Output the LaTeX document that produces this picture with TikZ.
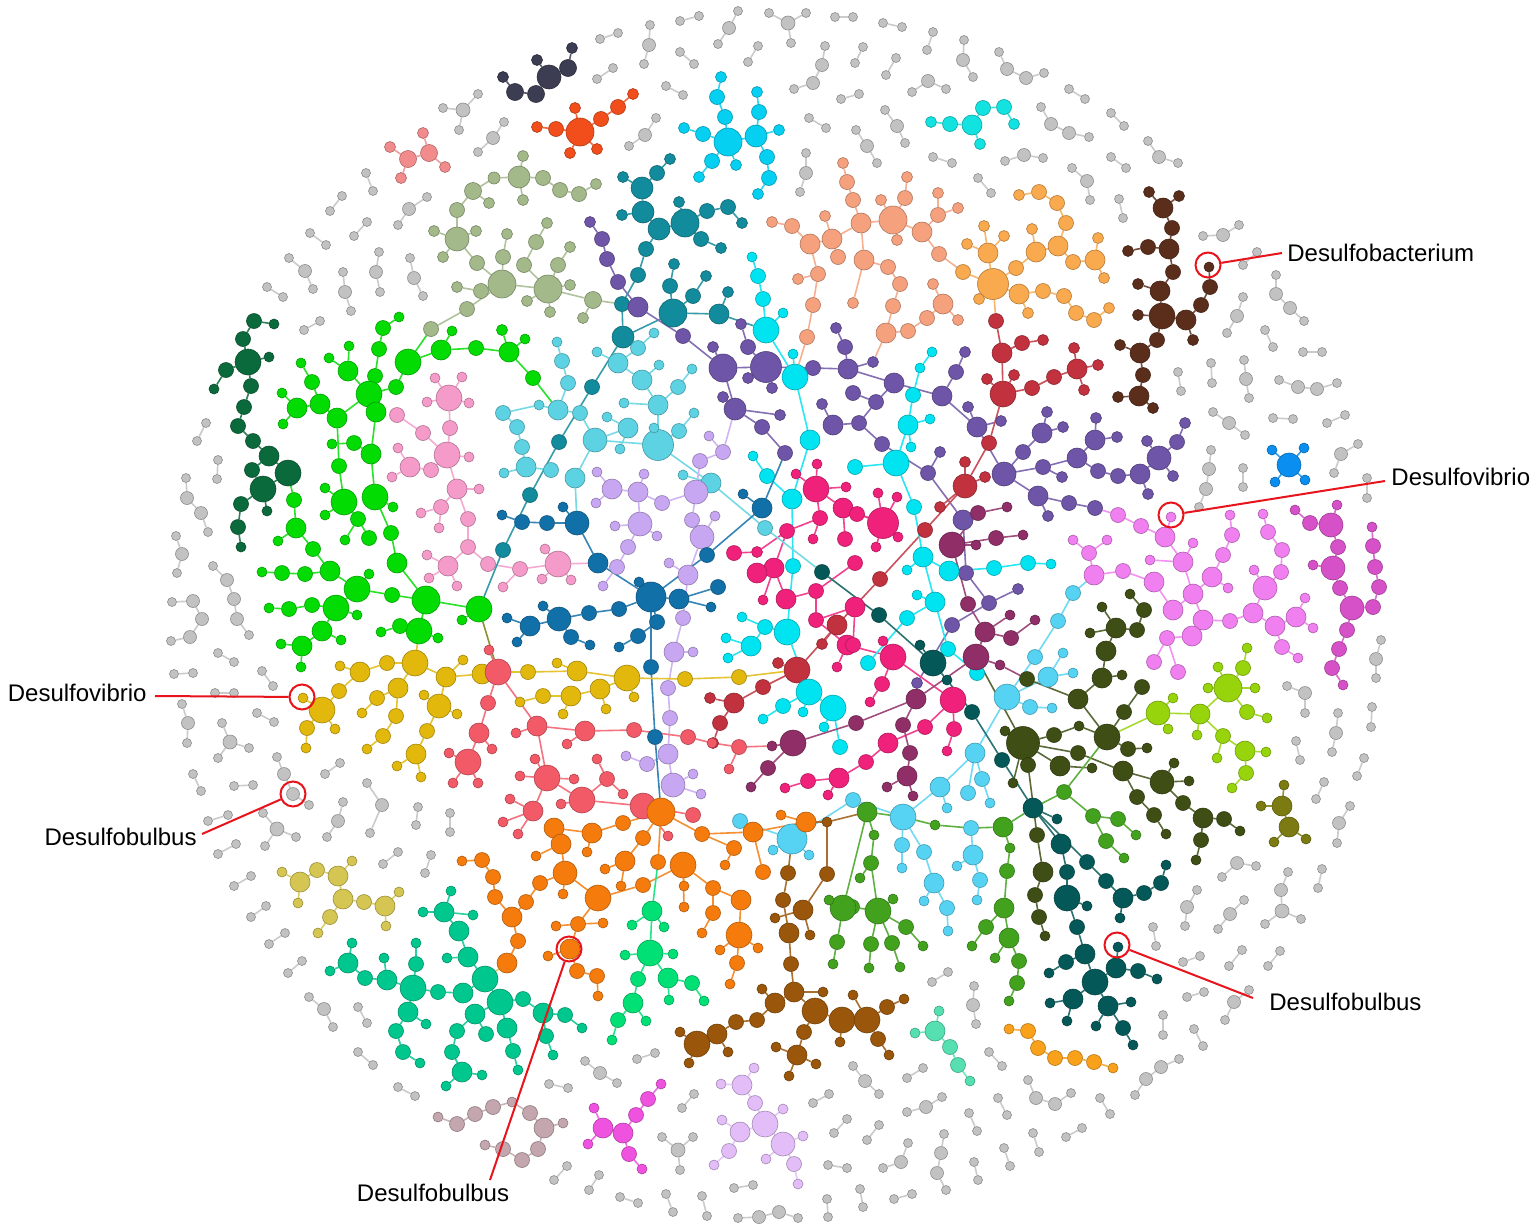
\documentclass[tikz,border=0pt]{standalone}
\usepackage{fontspec}
\setmainfont{Liberation Sans}
\usetikzlibrary{backgrounds}
\definecolor{cNV}{HTML}{3C3C52}\definecolor{cOR}{HTML}{F24E1C}\definecolor{cCY}{HTML}{05D0F2}
\definecolor{cSP}{HTML}{F28C8C}\definecolor{cTQ}{HTML}{12E2E0}\definecolor{cSG}{HTML}{A3B98A}
\definecolor{cTL}{HTML}{128B9C}\definecolor{cPU}{HTML}{6E55A7}\definecolor{cPE}{HTML}{F5A17E}
\definecolor{cLO}{HTML}{F9A94E}\definecolor{cCR}{HTML}{C1313E}\definecolor{cBR}{HTML}{5B2E1C}
\definecolor{cGR}{HTML}{02DC02}\definecolor{cDG}{HTML}{0B6A3C}\definecolor{cLP}{HTML}{F59BC9}
\definecolor{cLB}{HTML}{5DD2E2}\definecolor{cLV}{HTML}{C8A7F2}\definecolor{cBL}{HTML}{1270A9}
\definecolor{cHP}{HTML}{F0217B}\definecolor{cCB}{HTML}{00E4F2}\definecolor{cSK}{HTML}{56D3F3}
\definecolor{cPL}{HTML}{8F2E67}\definecolor{cDT}{HTML}{045958}\definecolor{cDO}{HTML}{3E4E15}
\definecolor{cYG}{HTML}{97D40B}\definecolor{cOL}{HTML}{7B7B12}\definecolor{cBB}{HTML}{0A8EEF}
\definecolor{cOC}{HTML}{F07FF0}\definecolor{cMG}{HTML}{D651C8}\definecolor{cGD}{HTML}{E1B80B}
\definecolor{cSR}{HTML}{F25A68}\definecolor{cOG}{HTML}{F57B0D}\definecolor{cSN}{HTML}{00E074}
\definecolor{cBW}{HTML}{9A560A}\definecolor{cG2}{HTML}{42A21E}\definecolor{cTG}{HTML}{00C78E}
\definecolor{cKH}{HTML}{D5C552}\definecolor{cMV}{HTML}{C3A6AE}\definecolor{cM2}{HTML}{F052E0}
\definecolor{cLL}{HTML}{E2BDF8}\definecolor{cMT}{HTML}{56E0B2}\definecolor{cO2}{HTML}{F9A11A}
\definecolor{grayc}{HTML}{C2C2C2}\definecolor{cRed}{HTML}{E8141C}
\newcount\gcnt
\newcommand\clus[3]{%
  \foreach \i/\x/\y/\s/\p in {#3}{\node[dot=#2,minimum size=\s*0.5pt] (#1-\i) at (\x,\y) {};}%
  \begin{pgfonlayer}{background}%
  \foreach \i/\x/\y/\s/\p in {#3}{\ifnum\p>0 \draw[edge=#2] (#1-\i) -- (#1-\p);\fi}%
  \end{pgfonlayer}}
\newcommand\gry[1]{\global\advance\gcnt by 1\relax\edef\gpre{g\the\gcnt}%
  \expandafter\clus\expandafter{\gpre}{grayc}{#1}}
\newcommand\gpair[4]{\gry{1/#1/#2/9/0,2/#3/#4/9/1}}
\newcommand\gchain[6]{\gry{1/#1/#2/9/0,2/#3/#4/13/1,3/#5/#6/9/2}}
\newcommand\gquad[8]{\gry{1/#1/#2/9/0,2/#3/#4/13/1,3/#5/#6/13/2,4/#7/#8/9/3}}
\newcommand\gstar[8]{\gry{1/#1/#2/14/0,2/#3/#4/9/1,3/#5/#6/9/1,4/#7/#8/9/1}}
\newcommand\xedge[3]{\begin{pgfonlayer}{background}\draw[edge=#1] (#2) -- (#3);\end{pgfonlayer}}
\begin{document}
\begin{tikzpicture}[x=0.5pt,y=-0.5pt,
  dot/.style={circle,inner sep=0pt,fill=#1,draw=#1!72!black,line width=0.3pt},
  edge/.style={draw=#1!85!white,line width=0.8pt},
  ring/.style={circle,draw=cRed,line width=1pt,inner sep=0pt,minimum size=12.5pt},
  redline/.style={draw=cRed,line width=1pt},
  lab/.style={inner sep=0pt,font=\fontsize{12pt}{14pt}\selectfont,text=black}]
\begin{pgfonlayer}{background}\fill[white] (0,0) rectangle (1535,1231);\end{pgfonlayer}
\useasboundingbox (0,0) rectangle (1535,1231);

% ---------------- coloured clusters ----------------
\clus{NV}{cNV}{1/549/77/24/0,2/536/94/17/1,3/515/92/17/2,4/503/77/11/3,5/568/68/17/1,6/572/48/11/5,7/537/60/11/1}
\clus{OR}{cOR}{1/580/132/28/0,2/575/108/11/1,3/556/129/15/1,4/537/127/11/3,5/570/153/11/1,6/597/149/11/1,7/601/119/15/1,8/618/107/15/7,9/633/94/11/8}
\clus{CY}{cCY}{1/728/142/28/0,2/725/117/15/1,3/717/97/15/2,4/721/77/11/3,5/703/134/15/1,6/684/128/11/5,7/712/161/15/1,8/699/177/11/7,9/736/165/11/1,10/756/136/22/1,11/759/112/15/10,12/757/92/11/11,13/779/130/11/10,14/767/157/15/10,15/769/178/15/14,16/758/194/11/15}
\clus{SP}{cSP}{1/408/159/17/0,2/429/153/17/1,3/390/147/11/1,4/401/178/11/1,5/423/133/11/2,6/445/167/11/2}
\clus{TQ}{cTQ}{1/972/125/20/0,2/950/124/15/1,3/931/122/11/2,4/983/108/15/1,5/1004/107/15/4,6/1014/124/11/5,7/980/144/11/1}
\clus{SG}{cSG}{1/519/177/22/0,2/523/156/11/1,3/523/200/11/1,4/543/178/15/1,5/560/190/15/4,6/579/194/15/5,7/596/184/11/6,8/494/178/12/1,9/473/191/17/8,10/489/203/11/9,11/457/210/15/9,12/457/239/24/11,13/434/231/11/12,14/476/231/11/12,15/443/257/11/12,16/477/263/15/12,17/502/284/28/16,18/457/287/11/19,19/481/291/15/17,20/467/309/15/17,21/431/329/15/20,22/548/289/28/17,23/593/300/17/22,24/524/265/15/22,25/536/242/15/24,26/547/223/11/25,27/503/257/15/17,28/507/234/11/27,29/558/265/15/22,30/570/247/11/29,31/570/285/11/22,32/527/301/11/22,33/550/312/11/22,34/583/318/11/23}
\clus{TL}{cTL}{1/685/223/28/0,2/679/202/11/1,3/707/211/15/1,4/728/207/15/3,5/742/223/11/4,6/701/239/15/1,7/721/248/11/6,8/659/229/22/1,9/643/212/22/8,10/622/215/11/9,11/642/188/22/9,12/623/177/11/11,13/657/173/15/11,14/670/159/11/13,15/646/249/15/8,16/638/275/15/15,17/622/304/15/16,18/623/337/22/17,19/673/313/28/18,20/670/286/15/19,21/674/264/11/20,22/693/296/15/19,23/706/276/11/22,24/719/314/20/19,25/728/292/11/24,26/592/387/15/18,27/559/442/15/26,28/530/495/15/27,29/503/550/15/28}
\clus{PU}{cPU}{1/590/222/11/2,2/602/239/15/3,3/607/259/15/4,4/618/282/15/5,5/638/307/20/6,6/683/336/15/7,7/723/368/28/0,8/713/347/11/7,9/766/367/31/7,10/748/347/15/9,11/741/324/11/10,12/748/378/11/9,13/772/388/11/9,14/735/409/22/7,15/723/397/11/14,16/780/415/11/14,17/813/368/15/9,18/848/369/20/17,19/845/347/15/18,20/836/328/11/19,21/873/362/11/18,22/894/383/20/18,23/942/396/20/22,24/956/372/15/23,25/965/352/11/24,26/876/402/15/22,27/853/393/15/26,28/859/423/15/26,29/882/444/15/28,30/928/473/15/29,31/940/452/11/30,32/963/520/20/30,33/977/427/20/23,34/968/407/11/33,35/1004/474/24/33,36/1001/421/11/33,37/1023/452/15/35,38/1042/433/20/37,39/1047/412/11/38,40/1063/427/11/38,41/1043/467/15/35,42/1077/458/20/41,43/1062/477/11/41,44/1095/440/20/42,45/1096/418/11/44,46/1117/437/11/44,47/1098/471/15/42,48/1118/476/15/47,49/1140/474/20/48,50/1159/458/24/49,51/1177/442/15/50,52/1185/423/11/51,53/1147/441/11/50,54/1173/476/11/50,55/1148/494/11/49,56/1038/496/20/35,57/1048/516/11/56,58/1069/503/15/56,59/1095/508/15/58,60/966/573/15/32,61/989/603/15/60,62/1018/589/11/61,63/952/625/15/61,64/917/683/11/63,65/762/427/15/14,66/785/453/15/65,67/833/425/20/28,68/822/404/11/67}
\clus{PE}{cPE}{1/893/220/28/0,2/881/200/11/1,3/905/198/15/1,4/907/177/11/3,5/897/240/11/1,6/922/232/20/1,7/938/215/15/6,8/938/193/11/7,9/958/208/11/7,10/939/254/15/6,11/861/223/20/1,12/853/200/15/11,14/847/182/15/12,15/843/163/11/14,16/832/239/20/11,17/825/216/11/16,18/810/244/20/16,19/792/226/15/18,20/772/222/11/19,21/838/257/15/16,22/818/274/15/18,23/798/279/11/22,24/813/305/15/22,25/807/337/15/24,26/864/260/20/11,27/888/267/15/26,28/900/284/15/27,29/893/306/15/28,30/886/333/20/29,31/908/331/15/30,32/927/318/15/31,33/943/304/20/32,34/933/284/11/33,35/958/320/11/33,36/853/303/11/26}
\clus{LO}{cLO}{1/993/284/31/0,2/963/272/15/1,3/988/253/20/1,4/967/244/11/3,5/984/226/11/3,6/1004/236/11/3,7/979/299/11/1,8/1016/268/15/1,9/1036/252/20/8,10/1032/229/11/9,11/1058/246/20/9,12/1066/223/15/11,13/1057/203/15/12,14/1039/192/15/13,15/1019/195/11/14,16/1073/262/15/11,17/1095/260/20/16,18/1098/238/11/17,19/1104/278/11/17,20/1019/294/20/1,21/1028/313/11/20,22/1043/291/15/20,23/1064/296/15/22,24/1076/313/15/23,25/1094/320/15/24,26/1109/308/11/25}
\clus{CR}{cCR}{1/996/321/15/0,2/1002/353/20/1,3/1022/343/15/2,4/1043/340/11/3,5/1003/394/26/2,6/987/379/11/5,7/1014/375/11/5,8/1032/388/15/5,9/1054/377/15/8,10/1077/369/20/9,11/1074/348/11/10,12/1098/365/11/10,13/1084/390/11/10,14/989/443/15/5,15/965/486/24/14,16/965/462/11/15,17/985/477/11/15,18/940/507/11/15,19/925/530/15/15,20/880/579/15/19,21/837/625/20/20,22/822/644/11/21,23/797/670/26/21,24/778/663/11/23,25/763/687/15/23,26/734/703/20/25,27/710/698/11/26,28/720/723/15/26,29/713/743/11/28}
\clus{BR}{cBR}{1/1163/208/20/0,2/1149/192/11/1,3/1179/196/11/1,4/1172/228/15/1,5/1169/249/20/4,6/1148/247/15/5,7/1128/251/11/6,8/1173/272/15/5,9/1160/291/20/8,10/1138/284/11/9,11/1162/316/26/9,12/1138/315/11/11,13/1186/320/20/11,14/1193/340/11/13,15/1201/305/15/13,16/1210/287/15/15,17/1209/267/10/16,18/1157/340/15/11,19/1140/353/20/18,20/1120/345/11/19,21/1143/375/15/19,22/1139/396/20/21,23/1118/397/11/22,24/1153/408/11/22}
\clus{GR}{cGR}{1/399/317/10/2,2/383/328/15/3,3/379/349/15/4,4/375/376/15/5,5/369/394/26/0,6/348/371/20/5,7/349/346/10/6,8/329/358/10/6,9/376/412/20/5,10/337/418/20/5,11/320/404/20/10,12/312/382/15/11,13/301/363/10/12,14/297/408/20/11,15/282/393/10/14,16/283/424/10/14,17/396/387/15/5,18/408/362/26/17,19/441/350/20/18,20/452/331/10/19,21/476/348/15/19,22/509/352/20/21,23/502/330/11/22,24/525/339/10/22,25/533/378/15/22,26/339/466/15/10,27/344/502/26/26,28/325/488/10/27,29/325/515/10/27,30/358/519/15/27,31/345/540/10/30,32/369/538/15/30,33/371/454/20/9,34/354/443/15/33,35/332/444/10/34,36/375/497/26/33,37/393/507/10/36,38/391/533/15/36,39/397/563/20/38,40/426/600/28/39,41/294/500/15/0,42/296/528/20/41,43/278/541/10/42,44/313/549/15/42,45/330/571/20/44,46/305/574/15/45,47/282/573/15/46,48/262/572/10/47,49/357/589/26/45,50/369/574/10/49,51/392/595/15/49,52/336/608/26/49,53/312/605/15/52,54/289/609/15/53,55/269/608/10/54,56/357/615/10/52,57/322/631/20/52,58/341/640/10/57,59/302/646/20/57,60/281/644/10/59,61/301/667/10/59,62/419/631/26/40,63/400/626/15/62,64/381/632/10/63,65/438/638/10/62,66/479/609/26/40,67/462/620/10/66}
\clus{DG}{cDG}{1/254/321/15/3,2/274/324/10/1,3/243/339/15/4,4/248/362/26/0,5/269/357/10/4,6/226/370/15/4,7/214/389/10/6,8/251/386/15/4,9/244/407/15/8,10/238/426/15/9,11/253/441/15/10,12/269/456/20/11,13/288/473/26/12,14/252/470/15/12,15/263/489/26/14,16/267/511/10/15,17/241/504/15/15,18/238/527/15/17,19/241/547/10/18}
\clus{LP}{cLP}{1/449/398/26/0,2/435/378/10/1,3/462/377/10/1,4/427/402/10/1,5/469/403/10/1,6/450/428/15/1,7/447/455/26/6,8/397/415/15/9,9/423/433/15/7,10/469/457/10/7,11/431/470/15/7,12/410/467/20/11,13/398/448/10/12,14/392/477/10/12,15/457/489/20/7,16/479/489/10/15,17/441/507/15/15,18/421/513/10/17,19/439/528/10/17,20/468/519/15/15,21/468/547/15/20,22/448/566/20/21,23/427/555/10/22,24/429/578/10/22,25/457/586/10/22,26/488/564/15/21,27/520/569/15/26,28/558/564/26/27,29/545/549/10/28,30/542/579/10/28,31/571/580/10/28,32/503/587/10/27}
\clus{LB}{cLB}{1/557/342/10/2,2/562/361/15/3,3/568/383/15/4,4/558/410/20/0,5/539/405/10/4,6/580/413/15/4,7/595/440/24/6,8/575/478/20/7,9/628/428/20/7,10/607/417/10/9,11/620/449/10/9,12/658/445/31/7,13/654/428/10/12,14/658/405/20/12,15/624/403/10/14,16/679/431/15/12,17/694/413/10/16,18/711/483/20/12,19/765/528/15/18,20/642/380/20/14,21/618/363/20/20,22/597/352/10/21,23/638/348/15/21,24/654/333/10/23,25/659/365/10/20,26/678/387/15/14,27/692/369/10/26,28/503/413/15/5,29/517/427/15/28,30/522/447/15/29,31/526/467/20/30,32/504/473/10/31,33/551/470/15/31,34/683/475/10/18}
\clus{LV}{cLV}{1/723/452/15/0,2/709/436/10/1,3/700/461/15/1,4/696/492/24/3,5/662/503/15/4,6/638/492/20/5,7/644/474/10/6,8/612/489/20/6,9/597/472/10/8,10/596/503/10/8,11/640/524/24/6,12/615/526/10/11,13/657/536/10/11,14/628/547/15/11,15/617/567/15/14,16/603/586/10/15,17/692/520/15/4,18/702/537/24/17,19/715/516/10/18,20/688/575/20/18,21/669/563/10/20,22/683/618/15/20,23/674/652/20/22,24/693/652/10/23,25/668/688/15/23,26/670/718/15/25,27/668/754/20/26,28/647/764/15/27,29/626/756/10/28,30/673/785/24/27,31/693/774/10/30,32/701/794/10/30}
\clus{BL}{cBL}{1/651/597/30/0,2/639/582/10/1,3/598/563/20/1,4/577/523/24/3,5/563/507/10/4,6/547/523/15/4,7/522/522/15/6,8/502/515/10/7,9/679/599/20/1,10/718/587/15/9,11/711/607/10/9,12/707/555/15/1,13/762/508/20/12,14/743/494/10/13,15/657/622/15/1,16/638/636/15/15,17/619/647/10/16,18/619/609/15/1,19/589/613/15/18,20/559/619/24/19,21/543/606/10/20,22/530/626/20/20,23/507/618/10/22,24/517/642/10/22,25/571/637/15/20,26/590/645/10/25,27/651/667/15/1,28/655/737/15/27}
\clus{HP}{cHP}{1/816/489/26/0,2/796/474/10/1,3/817/464/10/1,4/846/487/10/1,5/820/518/15/1,6/813/539/10/5,7/843/508/20/1,8/845/539/15/7,9/883/523/31/7,10/878/493/10/9,11/897/497/10/9,12/898/537/10/9,13/876/547/10/9,14/857/514/15/9,15/787/531/15/5,16/757/552/11/15,17/734/553/15/16,18/774/568/20/15,19/757/573/20/18,20/763/600/10/18,21/786/599/20/18,22/816/591/15/21,23/855/563/15/22,24/816/620/15/22,25/847/645/20/24,26/837/667/10/25,27/893/657/26/25,28/883/641/10/27,29/882/684/15/27,30/870/702/10/29,31/855/607/20/24,32/853/645/15/31,33/953/700/26/27,34/925/727/15/33,35/954/729/15/33,36/947/751/10/35,37/888/743/20/34,38/866/762/15/37,39/839/778/20/38,40/808/781/15/39,41/785/788/10/40,42/828/795/10/39}
\clus{CB}{cCB}{1/766/330/26/0,2/795/377/26/1,3/763/299/15/1,4/758/276/15/3,5/752/257/10/4,6/783/313/10/1,7/793/354/10/2,8/810/440/20/2,9/792/499/20/8,10/767/476/15/9,11/753/456/10/10,12/793/566/15/9,13/787/632/26/12,14/765/627/15/13,15/742/617/10/14,16/751/646/20/14,17/726/638/10/16,18/728/658/10/16,19/809/692/26/13,20/783/706/15/19,21/763/719/10/20,22/803/712/10/19,23/833/708/26/19,24/824/727/10/23,25/840/747/15/23,26/908/425/20/0,27/930/419/10/26,28/911/447/10/26,29/896/463/26/26,30/855/467/15/29,31/914/507/15/29,32/923/557/20/31,33/907/570/10/32,34/949/571/20/32,35/994/568/15/34,36/1028/563/15/35,37/1051/564/10/36,38/935/602/20/32,39/917/595/10/38,40/907/618/15/38,41/868/663/15/40,42/948/649/15/38,43/913/395/15/26,44/920/368/10/43,45/932/352/10/44,46/977/673/15/42}
\clus{SK}{cSK}{1/1007/697/26/0,2/1035/657/15/1,3/1058/621/15/2,4/1073/593/15/3,5/1048/677/20/1,6/1063/653/10/5,7/1073/673/10/5,8/1030/707/15/1,9/1052/708/10/8,10/975/753/20/1,11/982/779/15/10,12/990/803/10/11,13/940/787/20/10,14/947/808/10/13,15/903/817/26/13,16/902/845/15/15,17/902/868/10/16,18/924/852/15/15,19/934/883/20/18,20/924/901/10/19,21/947/908/15/19,22/948/931/10/21,23/971/828/15/0,24/973/855/20/23,25/957/866/10/24,26/980/880/15/24,27/977/900/10/26,28/968/793/15/10,29/853/800/15/15,30/792/839/30/29,31/740/821/15/30,32/773/850/10/30,33/809/855/10/30}
\clus{PL}{cPL}{1/952/545/26/0,2/978/513/15/1,3/1007/507/10/2,4/976/545/10/1,5/996/538/15/1,6/1023/535/10/5,7/968/604/15/1,8/985/632/20/7,9/1011/638/15/8,10/1035/620/10/9,11/1010/615/10/8,12/976/657/26/8,13/1000/665/10/12,14/916/699/20/12,15/903/725/15/14,16/910/753/15/15,17/907/776/20/16,18/887/787/10/17,19/913/796/10/17,20/856/723/15/14,21/793/743/26/20,22/772/746/10/21,23/768/768/15/21,24/751/787/10/23}
\clus{DT}{cDT}{1/822/572/15/0,2/879/615/15/1,3/933/663/26/2,4/920/645/10/3,5/947/680/10/3,6/972/712/15/5,7/1002/760/15/6,8/1033/808/20/7,9/1057/819/10/8,10/1061/844/20/8,11/1067/872/15/10,12/1067/898/26/11,13/1087/906/10/12,14/1077/927/15/12,15/1085/954/20/14,16/1066/962/15/15,17/1049/973/10/16,18/1095/982/26/15,19/1073/999/20/18,20/1050/1003/10/19,21/1067/1021/10/19,22/1108/1006/20/18,23/1096/1026/10/22,24/1123/1028/15/22,25/1133/1045/10/24,26/1131/1002/10/22,27/1116/968/20/18,28/1138/971/15/27,29/1157/979/10/28,30/1118/947/10/27,31/1087/862/15/8,32/1106/881/15/31,33/1123/898/20/32,34/1120/918/10/33,35/1144/893/15/33,36/1161/883/15/35,37/1166/865/10/36}
\clus{DO}{cDO}{1/1023/743/33/0,2/1005/731/10/1,3/1054/735/15/1,4/1079/726/10/3,5/1060/766/20/1,6/1092/768/10/5,7/1028/765/15/1,8/1013/783/10/1,9/1037/835/15/7,10/1043/872/20/9,11/1035/895/15/10,12/1039/917/15/11,13/1045/936/10/12,14/1078/753/15/1,15/1123/771/20/14,16/1162/782/24/15,17/1174/763/10/16,18/1189/781/10/16,19/1183/803/15/16,20/1203/818/20/19,21/1224/819/15/20,22/1240/831/10/21,23/1201/840/15/20,24/1196/860/10/23,25/1107/737/26/0,26/1078/699/20/25,27/1027/679/15/26,28/1124/712/15/25,29/1142/687/15/28,30/1128/749/15/25,31/1147/748/10/30,32/1137/797/15/15,33/1154/815/15/32,34/1166/834/10/33,35/1102/678/20/26,36/1122/675/10/35,37/1106/651/20/35,38/1116/628/20/37,39/1090/633/10/38,40/1102/607/10/38,41/1137/630/15/38,42/1144/610/15/41,43/1130/594/10/42}
\clus{YG}{cYG}{1/1158/713/24/0,2/1173/698/10/1,3/1168/729/10/1,4/1200/714/20/1,5/1197/735/10/4,6/1228/688/28/4,7/1243/668/15/6,8/1247/648/10/7,9/1218/667/10/6,10/1208/688/10/6,11/1255/688/10/6,12/1247/712/15/6,13/1267/718/10/12,14/1223/736/15/4,15/1245/751/20/14,16/1266/752/10/15,17/1246/773/15/15,18/1232/788/10/17,19/1217/758/10/14}
\clus{OL}{cOL}{1/1282/806/20/0,2/1284/785/10/1,3/1261/806/10/1,4/1289/827/20/1,5/1274/842/10/4,6/1306/839/10/4}
\clus{BB}{cBB}{1/1289/465/24/0,2/1272/450/10/1,3/1304/448/10/1,4/1275/482/10/1,5/1305/480/10/1}
\clus{OC}{cOC}{1/1165/537/20/0,2/1141/526/15/1,3/1118/515/15/2,4/1171/517/10/1,5/1183/562/20/1,6/1193/543/10/5,7/1150/560/10/5,8/1193/594/20/5,9/1173/610/20/8,10/1154/582/20/9,11/1123/571/15/10,12/1094/575/20/11,13/1089/553/15/12,14/1073/540/10/13,15/1107/540/10/13,16/1203/620/20/8,17/1230/621/15/16,18/1253/613/20/17,19/1265/588/24/18,20/1254/570/10/19,21/1281/572/15/19,22/1282/550/15/21,23/1268/532/15/22,24/1263/514/10/23,25/1275/626/20/18,26/1296/617/20/25,27/1305/598/10/26,28/1313/628/10/26,29/1282/647/15/25,30/1298/658/10/29,31/1212/577/20/8,32/1223/555/15/31,33/1232/535/15/32,34/1230/515/10/33,35/1228/588/10/31,36/1192/636/20/16,37/1167/638/15/36,38/1154/662/15/37,39/1178/672/15/37}
\clus{MG}{cMG}{1/1331/525/24/0,2/1310/523/15/1,3/1295/510/10/2,4/1337/505/10/1,5/1338/547/15/1,6/1333/568/24/5,7/1313/565/10/6,8/1340/588/15/6,9/1352/608/24/8,10/1373/607/15/9,11/1379/587/15/10,12/1375/567/15/11,13/1373/546/15/12,14/1372/527/10/13,15/1347/630/15/9,16/1339/649/15/15,17/1332/668/15/16,18/1343/685/10/17}
\clus{GD}{cGD}{1/415/663/26/0,2/387/663/15/1,3/360/672/20/2,4/340/666/10/3,5/339/691/15/3,6/322/710/26/5,7/303/698/10/6,8/307/728/15/6,9/306/748/10/8,10/335/729/10/6,11/398/688/20/1,12/377/698/15/11,13/362/713/10/12,14/396/716/15/11,15/383/736/15/14,16/367/749/10/15,17/446/677/20/1,18/463/660/10/17,19/482/674/20/17,20/439/706/24/17,21/424/695/10/20,22/457/714/10/20,23/427/731/15/20,24/416/754/20/23,25/397/766/10/24,26/421/777/10/24,27/528/672/15/0,28/557/663/10/29,29/577/671/20/27,30/627/678/26/29,31/685/679/15/30,32/739/677/15/31,33/600/689/20/30,34/571/696/20/33,35/543/696/15/34,36/520/702/10/35,37/563/714/10/34,38/606/709/10/33,39/634/697/10/30}
\clus{SR}{cSR}{1/498/672/26/0,2/489/650/10/1,3/488/703/15/1,4/479/733/20/3,5/492/749/10/4,6/468/762/26/4,7/449/753/10/6,8/453/783/10/6,9/478/783/10/6,10/537/726/20/1,11/516/733/10/10,12/585/731/20/10,13/567/744/10/12,14/634/730/15/12,15/688/737/15/14,16/712/743/10/15,17/739/747/15/16,18/729/769/10/17,19/547/778/26/10,20/535/759/10/19,21/520/776/10/19,22/574/779/10/19,23/533/811/20/19,24/510/799/10/23,25/518/834/10/23,26/503/822/10/23,27/582/800/26/19,28/561/804/10/27,29/607/779/15/27,30/597/759/10/29,31/623/794/10/29,32/643/806/26/27,33/668/836/10/32,34/693/815/15/32}
\clus{OG}{cOG}{1/661/812/28/0,2/623/823/15/1,3/592/833/20/2,4/554/828/20/3,5/561/844/20/4,6/536/856/10/5,7/587/852/10/3,8/565/873/24/5,9/540/883/15/8,10/526/902/15/9,11/512/917/20/10,12/518/941/15/11,13/507/963/20/12,14/563/894/10/8,15/598/898/26/8,16/643/885/15/15,17/683/865/26/16,18/578/924/15/15,19/556/926/10/18,20/603/923/10/18,21/570/949/20/18,22/548/956/10/21,23/577/971/15/21,24/597/976/15/23,25/598/996/10/24,26/643/838/15/1,27/625/861/20/26,28/605/869/10/27,29/621/886/10/27,30/658/862/15/1,31/684/886/10/17,32/713/888/15/17,33/741/900/20/32,34/713/913/15/32,35/702/933/10/34,36/739/935/26/33,37/720/950/10/36,38/758/948/10/36,39/737/963/15/36,40/730/984/10/39,41/684/907/10/17,42/702/834/15/1,43/734/848/15/42,44/725/865/10/43,45/753/832/20/42,46/806/822/20/45,47/781/815/10/46,48/763/872/15/45,49/482/860/15/50,50/493/877/15/51,51/495/897/15/11,52/462/861/10/49}
\clus{SN}{cSN}{1/652/911/20/0,2/632/925/10/1,3/664/927/10/1,4/650/953/26/1,5/625/955/10/4,6/673/954/10/4,7/638/979/15/4,8/633/1003/20/7,9/618/1020/15/8,10/612/1040/10/9,11/646/1021/10/8,12/668/978/20/4,13/669/1000/10/12,14/692/983/15/12,15/704/1001/10/14}
\clus{BW}{cBW}{1/827/822/10/0,2/827/874/15/1,3/803/910/20/2,4/775/918/10/3,5/810/935/10/3,6/788/873/15/0,7/783/900/15/6,8/789/933/20/7,9/791/964/15/8,10/794/992/20/9,11/775/1003/20/10,12/762/989/10/11,13/823/992/10/10,14/815/1011/26/10,15/842/1020/26/14,16/840/1042/10/15,17/804/1032/15/14,18/797/1055/20/17,19/776/1047/10/18,20/816/1064/10/18,21/789/1076/10/18,22/757/1020/15/11,23/736/1022/15/22,24/717/1034/20/23,25/697/1044/26/24,26/680/1032/10/25,27/689/1063/10/25,28/728/1052/10/24,29/867/1020/26/15,30/887/1007/15/29,31/904/999/10/30,32/853/995/10/29,33/878/1039/15/29,34/889/1055/10/33}
\clus{G2}{cG2}{1/867/812/20/0,2/874/835/10/1,3/871/863/15/2,4/860/878/10/3,5/878/911/26/3,6/852/907/15/5,7/893/899/10/5,8/906/927/15/5,9/923/946/10/8,10/871/944/15/5,11/869/968/10/10,12/892/943/15/5,13/900/967/10/12,14/935/825/10/0,15/1003/827/20/0,16/1010/848/10/15,17/1007/871/15/16,18/1004/908/20/17,19/986/927/15/18,20/972/946/10/19,21/1009/938/20/18,22/995/958/10/21,23/1019/961/15/21,24/1017/983/15/23,25/1009/1001/10/24,26/1064/792/15/0,27/1093/816/15/26,28/1118/819/15/27,29/1136/835/10/28,30/1106/841/15/27,31/1124/858/10/30,32/843/908/26/0,33/829/900/10/32,34/837/942/15/32,35/833/964/10/34}
\clus{TG}{cTG}{1/451/891/10/2,2/444/912/20/3,3/459/931/20/4,4/468/957/20/5,5/485/979/26/6,6/500/1002/26/0,7/423/912/10/2,8/473/915/10/2,9/447/958/10/4,10/463/993/20/5,11/438/992/15/10,12/413/988/26/11,13/387/980/20/12,14/365/978/15/13,15/348/963/20/14,16/330/971/10/15,17/352/943/10/15,18/384/958/10/13,19/416/964/15/12,20/416/943/10/19,21/408/1012/20/12,22/426/1024/10/21,23/396/1031/15/21,24/403/1052/15/23,25/420/1063/10/24,26/475/1014/20/6,27/457/1031/15/26,28/452/1052/15/27,29/462/1072/20/28,30/446/1086/10/29,31/482/1075/10/29,32/486/1034/15/26,33/523/999/15/6,34/543/1013/20/33,35/565/1015/15/34,36/582/1028/10/35,37/546/1036/15/34,38/553/1055/10/37,39/507/1028/20/6,40/513/1051/15/39,41/518/1070/10/40}
\clus{KH}{cKH}{1/300/882/20/0,2/282/872/10/1,3/298/903/10/1,4/317/870/15/1,5/338/876/20/4,6/352/861/10/5,7/343/899/20/5,8/330/917/15/7,9/318/933/10/8,10/364/902/15/7,11/385/906/20/10,12/399/892/10/11,13/386/926/10/11}
\clus{MV}{cMV}{1/438/1117/10/2,2/457/1124/15/3,3/475/1114/15/4,4/493/1107/15/5,5/512/1102/10/6,6/530/1113/15/7,7/544/1128/20/0,8/563/1123/10/7,9/538/1149/15/7,10/522/1160/15/9,11/503/1149/15/10,12/485/1145/10/11}
\clus{M2}{cM2}{1/623/1133/20/0,2/636/1115/15/1,3/648/1099/15/2,4/661/1084/10/3,5/603/1128/20/1,6/594/1108/10/5,7/588/1144/10/5,8/629/1154/15/1,9/642/1169/10/8}
\clus{LL}{cLL}{1/765/1124/26/0,2/755/1103/15/1,3/742/1085/20/2,4/754/1068/10/3,5/721/1084/10/3,6/783/1109/10/1,7/740/1132/20/1,8/722/1120/10/7,9/729/1151/15/7,10/714/1165/10/9,11/783/1144/24/1,12/803/1136/10/11,13/766/1159/10/11,14/794/1164/15/11,15/798/1184/10/14}
\clus{MT}{cMT}{1/935/1031/20/0,2/939/1011/10/1,3/915/1033/10/1,4/950/1047/15/1,5/958/1065/15/4,6/970/1081/10/5}
\clus{O2}{cO2}{1/1009/1029/10/0,2/1028/1031/15/1,3/1038/1048/15/2,4/1055/1058/15/3,5/1075/1058/15/4,6/1094/1062/15/5,7/1113/1068/10/6}

% cross-cluster links
\xedge{cSG}{TL-17}{SG-23}\xedge{cTL}{TL-24}{CB-1}\xedge{cTL}{TL-29}{GR-66}
\xedge{cPE}{PE-30}{PU-21}\xedge{cPE}{PE-10}{LO-2}\xedge{cPE}{PE-25}{CB-2}
\xedge{cLO}{LO-1}{CR-1}\xedge{cGD}{CR-23}{GD-32}\xedge{cGR}{GR-18}{SG-21}
\xedge{cGR}{GR-41}{DG-13}\xedge{cGR}{GR-51}{GR-40}\xedge{cGD}{GR-62}{GD-1}
\xedge{cOL}{GR-66}{SR-1}\xedge{cDG}{DG-13}{DG-15}\xedge{cLP}{LP-28}{BL-3}
\xedge{cLB}{LB-8}{BL-4}\xedge{cLB}{LB-19}{DT-1}\xedge{cLV}{LV-1}{PU-14}
\xedge{cBL}{BL-13}{PU-66}\xedge{cBL}{BL-28}{OG-1}\xedge{cOC}{OC-3}{PU-59}
\xedge{cSK}{OC-12}{SK-4}\xedge{cSR}{SR-17}{PL-22}\xedge{cPL}{DO-27}{PL-13}
\xedge{cYG}{DO-25}{YG-1}\xedge{cDO}{DO-4}{DO-25}\xedge{cDO}{PL-12}{DO-1}
\xedge{cGD}{GD-19}{SR-1}\xedge{cGD}{SR-1}{GD-27}
\xedge{cG2}{G2-1}{SK-15}\xedge{cG2}{SK-15}{G2-14}\xedge{cG2}{G2-14}{SK-23}
\xedge{cG2}{SK-23}{G2-15}\xedge{cG2}{G2-15}{DT-8}\xedge{cG2}{DT-8}{G2-26}
\xedge{cG2}{G2-26}{DO-25}\xedge{cG2}{G2-32}{G2-1}\xedge{cSN}{SN-1}{OG-30}
\xedge{cBW}{BW-6}{SK-30}\xedge{cBW}{OG-46}{BW-1}\xedge{cBW}{BW-1}{G2-1}
\xedge{cKH}{TG-5}{OG-13}\xedge{cGR}{GR-25}{LB-4}

% ---------------- grey satellites ----------------
\gpair{366}{173}{373}{191}\gpair{342}{196}{330}{211}\gpair{367}{222}{354}{236}
\gpair{310}{233}{326}{245}\gpair{267}{287}{283}{297}\gpair{320}{321}{304}{330}
\gpair{206}{423}{197}{441}\gpair{218}{460}{217}{479}\gpair{218}{653}{234}{662}
\gpair{174}{674}{193}{673}\gpair{262}{671}{273}{686}\gpair{215}{693}{234}{693}
\gpair{257}{713}{274}{722}\gpair{193}{774}{201}{791}\gpair{234}{786}{253}{785}
\gpair{325}{774}{340}{763}\gpair{418}{807}{416}{825}\gpair{450}{813}{450}{832}
\gpair{208}{821}{228}{815}\gpair{218}{854}{236}{844}\gpair{234}{886}{251}{876}
\gpair{251}{917}{266}{906}\gpair{269}{944}{285}{933}\gpair{288}{973}{302}{961}
\gpair{358}{1007}{367}{1023}\gpair{358}{1052}{373}{1065}\gpair{398}{1087}{415}{1096}
\gpair{383}{864}{398}{852}\gpair{425}{873}{431}{855}\gpair{637}{1059}{655}{1053}
\gpair{549}{1084}{568}{1088}\gpair{682}{1108}{694}{1094}\gpair{554}{1180}{567}{1166}
\gpair{589}{1190}{599}{1175}\gpair{620}{1197}{638}{1203}\gpair{666}{1194}{673}{1212}
\gpair{702}{1196}{707}{1216}\gpair{734}{1188}{753}{1185}\gpair{813}{1103}{829}{1094}
\gpair{834}{1133}{847}{1119}\gpair{828}{1165}{847}{1168}\gpair{827}{1199}{828}{1217}
\gpair{932}{982}{948}{972}\gpair{989}{1052}{1002}{1066}\gpair{907}{1078}{923}{1068}
\gpair{998}{1098}{1007}{1115}\gpair{1100}{1098}{1110}{1114}\gpair{867}{1140}{879}{1125}
\gpair{969}{1113}{977}{1131}\gpair{1004}{1148}{1010}{1166}\gpair{1033}{1133}{1039}{1152}
\gpair{1066}{1137}{1082}{1128}\gpair{974}{1162}{978}{1180}\gpair{894}{1199}{912}{1194}
\gpair{860}{1189}{863}{1207}\gpair{1153}{927}{1156}{946}\gpair{1183}{962}{1200}{956}
\gpair{1187}{997}{1204}{992}\gpair{1163}{1015}{1163}{1035}\gpair{1194}{1029}{1203}{1046}
\gpair{1372}{707}{1371}{727}\gpair{1296}{741}{1300}{760}\gpair{1364}{758}{1357}{776}
\gpair{1324}{782}{1316}{799}\gpair{1322}{869}{1318}{888}\gpair{1242}{950}{1229}{966}
\gpair{1280}{951}{1268}{966}\gpair{1257}{252}{1243}{265}\gpair{1265}{330}{1273}{347}
\gpair{1303}{352}{1322}{352}\gpair{1178}{372}{1181}{391}\gpair{1211}{363}{1212}{383}
\gpair{1273}{418}{1293}{419}\gpair{1327}{423}{1345}{415}\gpair{1243}{468}{1243}{487}
\gpair{1367}{478}{1367}{498}\gpair{600}{39}{618}{33}\gpair{680}{21}{699}{16}
\gpair{835}{17}{853}{17}\gpair{883}{23}{902}{27}\gpair{933}{32}{927}{50}
\gpair{863}{47}{855}{63}\gpair{896}{58}{886}{75}\gpair{933}{157}{952}{163}
\gpair{978}{178}{991}{193}\gpair{1069}{89}{1085}{99}\gpair{1111}{113}{1124}{126}
\gpair{1111}{157}{1126}{168}\gpair{1119}{199}{1123}{218}\gpair{597}{79}{613}{68}
\gpair{680}{52}{694}{64}\gpair{758}{46}{748}{62}\gpair{666}{86}{683}{95}
\gpair{841}{99}{859}{94}\gpair{809}{118}{826}{128}
\gchain{427}{197}{409}{209}{398}{225}\gchain{289}{258}{305}{271}{313}{289}
\gchain{343}{272}{345}{292}{351}{311}\gchain{379}{252}{376}{272}{380}{292}
\gchain{410}{258}{414}{278}{423}{296}\gchain{478}{152}{493}{138}{504}{122}
\gchain{176}{536}{182}{554}{177}{573}\gchain{182}{704}{188}{723}{187}{743}
\gchain{367}{783}{382}{805}{370}{833}\gchain{343}{802}{338}{821}{327}{837}
\gchain{309}{997}{324}{1009}{333}{1027}\gchain{585}{1061}{600}{1073}{617}{1083}
\gchain{974}{986}{973}{1005}{976}{1024}\gchain{853}{1066}{865}{1081}{879}{1094}
\gchain{907}{1112}{926}{1107}{942}{1097}\gchain{883}{1168}{901}{1162}{908}{1143}
\gchain{1197}{890}{1187}{907}{1185}{926}\gchain{1338}{713}{1336}{733}{1332}{752}
\gchain{1350}{806}{1339}{823}{1337}{843}\gchain{1222}{877}{1237}{863}{1256}{866}
\gchain{1244}{900}{1230}{914}{1218}{929}\gchain{1249}{990}{1234}{1002}{1225}{1020}
\gchain{1203}{236}{1223}{235}{1239}{225}\gchain{1243}{297}{1237}{316}{1227}{333}
\gchain{1244}{360}{1246}{379}{1249}{398}\gchain{1213}{412}{1229}{423}{1245}{435}
\gchain{1358}{444}{1341}{454}{1334}{473}\gchain{1381}{640}{1376}{659}{1376}{678}
\gchain{1287}{686}{1305}{693}{1305}{713}\gchain{964}{40}{963}{60}{973}{77}
\gchain{912}{92}{928}{81}{946}{89}\gchain{885}{110}{897}{126}{905}{143}
\gchain{856}{130}{867}{146}{877}{163}\gchain{1005}{161}{1024}{155}{1043}{158}
\gchain{1072}{168}{1087}{181}{1090}{200}\gchain{1148}{141}{1159}{157}{1178}{163}
\gchain{650}{25}{649}{45}{644}{64}\gchain{738}{11}{729}{28}{718}{44}
\gchain{656}{118}{645}{135}{629}{146}\gchain{806}{153}{806}{173}{800}{192}
\gquad{186}{478}{187}{498}{201}{513}{208}{532}\gquad{277}{757}{284}{774}{293}{794}{309}{805}
\gquad{738}{1218}{759}{1217}{779}{1212}{798}{1218}\gquad{1028}{1080}{1036}{1098}{1055}{1104}{1071}{1093}
\gquad{1135}{1095}{1146}{1079}{1161}{1067}{1179}{1059}\gquad{944}{1134}{941}{1153}{937}{1173}{946}{1190}
\gquad{1276}{275}{1276}{294}{1290}{308}{1304}{321}\gquad{1279}{380}{1298}{387}{1317}{389}{1337}{383}
\gquad{1211}{450}{1209}{469}{1206}{489}{1199}{507}\gquad{999}{52}{1007}{69}{1026}{78}{1044}{73}
\gquad{1041}{107}{1051}{124}{1069}{133}{1089}{137}\gquad{825}{46}{822}{65}{813}{83}{794}{89}
\gry{1/213/566/9/0,2/227/580/13/1,3/234/599/13/2,4/237/619/13/3,5/249/635/9/4}
\gry{1/172/602/9/0,2/193/601/13/1,3/202/619/13/2,4/190/637/13/3,5/171/641/9/4}
\gstar{463}{110}{443}{108}{478}{94}{459}{130}\gstar{230}{742}{222}{723}{249}{748}{218}{758}
\gstar{277}{829}{263}{813}{296}{837}{265}{846}\gstar{678}{1150}{662}{1137}{693}{1137}{680}{1170}
\gstar{788}{23}{769}{13}{806}{13}{791}{43}
\gry{1/1288/872/9/0,2/1281/890/13/1,3/1282/911/14/2,4/1301/919/9/3,5/1265/924/9/3}

% ---------------- annotations ----------------
\node[ring] (rc1) at (1208,265) {};
\node[ring] (rc2) at (1171,515) {};
\node[ring] (rc3) at (302,697) {};
\node[ring] (rc4) at (293,794) {};
\node[ring] (rc5) at (569,949) {};
\node[ring] (rc6) at (1117,945) {};
\coordinate (e1) at (1282,253);\coordinate (e2) at (1385,481);\coordinate (e3) at (155,696);
\coordinate (e4) at (202,834);\coordinate (e5) at (490,1180);\coordinate (e6) at (1253,998);
\draw[redline] (rc1) -- (e1);\draw[redline] (rc2) -- (e2);\draw[redline] (rc3) -- (e3);
\draw[redline] (rc4) -- (e4);\draw[redline] (rc5) -- (e5);\draw[redline] (rc6) -- (e6);
\node[lab,anchor=west] (lab1) at (1287,253) {Desulfobacterium};
\node[lab,anchor=west] (lab2) at (1391,477) {Desulfovibrio};
\node[lab,anchor=east] (lab3) at (147,693) {Desulfovibrio};
\node[lab,anchor=east] (lab4) at (197,837) {Desulfobulbus};
\node[lab] (lab5) at (433,1193) {Desulfobulbus};
\node[lab,anchor=west] (lab6) at (1269,1002) {Desulfobulbus};
\end{tikzpicture}
\end{document}
